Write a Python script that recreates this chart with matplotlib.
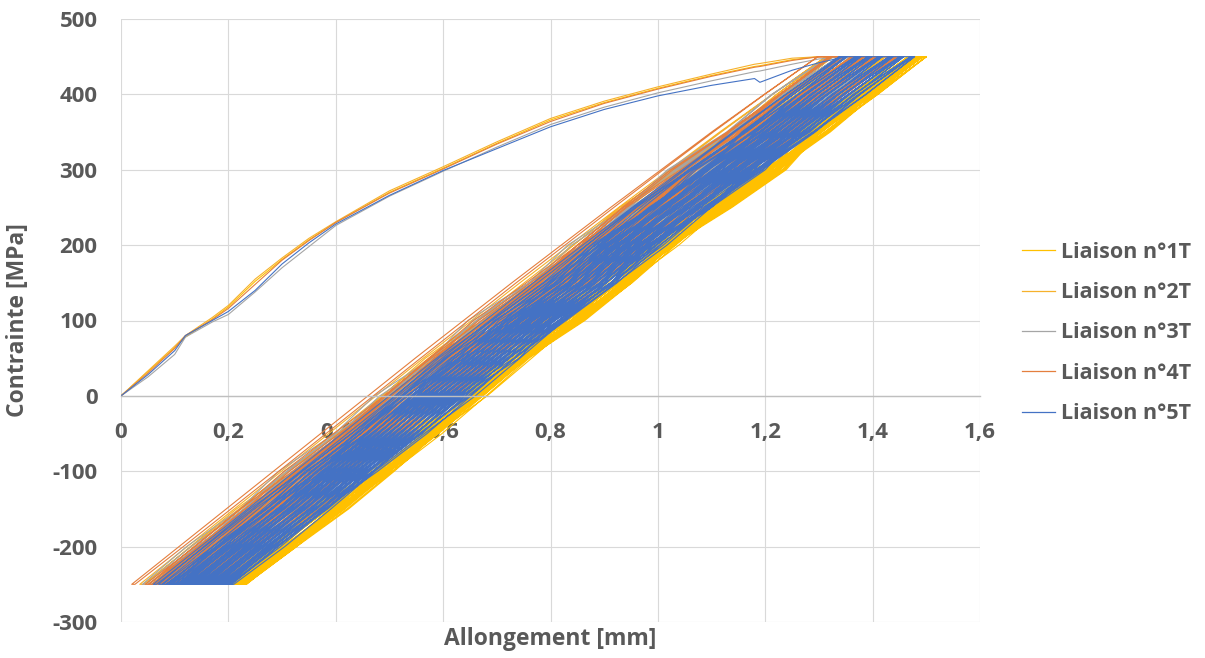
import matplotlib.pyplot as plt
from matplotlib.lines import Line2D

plt.rcParams['font.family'] = ['Open Sans', 'DejaVu Sans']
plt.rcParams['font.weight'] = 'bold'

# Legend names and colours
series_names = ['Liaison n°1T', 'Liaison n°2T', 'Liaison n°3T', 'Liaison n°4T', 'Liaison n°5T']
series_colors = ['#FFC000', '#F6B12C', '#A5A5A5', '#E47F3E', '#4472C4']

# First (virgin) loading curve
virgin_x = [0, 0.05, 0.10, 0.12, 0.17, 0.20, 0.25, 0.30, 0.35, 0.40, 0.50, 0.60,
            0.70, 0.80, 0.90, 1.00, 1.10, 1.18, 1.19, 1.25, 1.30, 1.35]
virgin_1T = [0, 32, 64, 78, 102, 118, 152, 181, 207, 230, 270, 302, 335, 366, 389, 408, 425, 437, 438, 446, 450, 450]
virgin_2T = [0, 33, 66, 80, 104, 120, 155, 183, 209, 231, 272, 304, 337, 368, 391, 410, 427, 440, 441, 448, 450, 450]
virgin_3T = [0, 25, 55, 78, 98, 108, 138, 170, 198, 226, 265, 298, 330, 360, 383, 402, 418, 430, 431, 440, 447, 450]
virgin_4T = [0, 30, 63, 80, 101, 116, 148, 180, 206, 230, 269, 301, 334, 364, 388, 407, 424, 436, 437, 445, 450, 450]
virgin_5T = [0, 28, 60, 80, 100, 112, 140, 175, 203, 228, 266, 299, 328, 357, 380, 398, 412, 421, 416, 432, 442, 450]

# Cyclic part: stress levels and elongation shapes of one loading branch (mm above the cycle start)
cycle_stress = [-250, -200, -150, -100, -50, 0, 50, 100, 150, 200, 250, 300, 350, 400, 450]
shape_smooth = [0, 0.088, 0.176, 0.264, 0.352, 0.440, 0.528, 0.618, 0.708, 0.800, 0.892, 0.986, 1.080, 1.178, 1.278]
shape_wavy = [0, 0.093, 0.178, 0.259, 0.351, 0.446, 0.529, 0.612, 0.710, 0.806, 0.889, 0.979, 1.084, 1.183, 1.274]
shape_kink = [0, 0.092, 0.188, 0.272, 0.352, 0.432, 0.520, 0.628, 0.716, 0.792, 0.905, 1.008, 1.072, 1.168, 1.266]
shape_jagged = [0, 0.082, 0.182, 0.254, 0.358, 0.432, 0.540, 0.606, 0.720, 0.792, 0.902, 0.978, 1.088, 1.172, 1.279]
shape_bumpy = [0, 0.084, 0.170, 0.268, 0.360, 0.442, 0.522, 0.620, 0.716, 0.798, 0.884, 0.990, 1.090, 1.176, 1.272]
unload_shift = [0.006, 0.008, 0.009, 0.010, 0.010, 0.010, 0.010, 0.009, 0.008, 0.007, 0.006, 0.004, 0.003, 0.001, 0]

# Elongation at -250 MPa for each cycle
starts_1T = [0.120, 0.150, 0.170, 0.180, 0.190, 0.195, 0.200, 0.205, 0.210, 0.212, 0.215,
             0.218, 0.220, 0.222, 0.224, 0.226, 0.227, 0.228]
starts_2T = [0.035, 0.045, 0.052, 0.060, 0.068, 0.075, 0.082, 0.090, 0.100, 0.110, 0.115,
             0.120, 0.130, 0.140, 0.150, 0.160, 0.170]
starts_3T = [0.040, 0.050, 0.058, 0.065, 0.075, 0.085, 0.095, 0.105, 0.115, 0.125, 0.135,
             0.145, 0.160, 0.175]
starts_4T = [0.020, 0.045, 0.052, 0.058, 0.063, 0.068, 0.073, 0.078, 0.083, 0.088, 0.093,
             0.098, 0.103, 0.108, 0.113, 0.118, 0.123, 0.130, 0.137, 0.145, 0.152, 0.160,
             0.170, 0.180]
starts_5T = [0.060, 0.070, 0.078, 0.084, 0.089, 0.094, 0.099, 0.104, 0.108, 0.112, 0.116,
             0.120, 0.124, 0.128, 0.132, 0.136, 0.140, 0.144, 0.148, 0.152, 0.156, 0.160,
             0.164, 0.168, 0.172, 0.176, 0.180, 0.184, 0.188, 0.192, 0.196, 0.200, 0.204]

xtick_vals = [0, 0.2, 0.4, 0.6, 0.8, 1.0, 1.2, 1.4, 1.6]
xtick_labels = ['0', '0,2', '0,4', '0,6', '0,8', '1', '1,2', '1,4', '1,6']
ytick_vals = [-300, -200, -100, 0, 100, 200, 300, 400, 500]
ytick_labels = ['-300', '-200', '-100', '0', '100', '200', '300', '400', '500']

virgins = [virgin_1T, virgin_2T, virgin_3T, virgin_4T, virgin_5T]
starts = [starts_1T, starts_2T, starts_3T, starts_4T, starts_5T]
shape_sets = [[shape_kink, shape_bumpy, shape_kink, shape_wavy],
              [shape_smooth, shape_bumpy, shape_wavy],
              [shape_jagged, shape_wavy, shape_jagged, shape_bumpy],
              [shape_smooth, shape_wavy, shape_bumpy, shape_kink],
              [shape_smooth, shape_bumpy, shape_wavy, shape_kink, shape_jagged]]

fig = plt.figure(figsize=(12.05, 6.58), dpi=100)
ax = fig.add_axes([121 / 1205, 1 - 622 / 658, (980 - 121) / 1205, (622 - 19) / 658])

text_color = '#595959'

for k in range(5):
    xs = list(virgin_x)
    ys = list(virgins[k])
    for i, b in enumerate(starts[k]):
        shape = shape_sets[k][i % len(shape_sets[k])]
        # unloading branch, top to bottom
        for d, h, s in zip(shape[::-1], unload_shift[::-1], cycle_stress[::-1]):
            xs.append(b + d + h)
            ys.append(s)
        # reloading branch, bottom to top
        for d, s in zip(shape, cycle_stress):
            xs.append(b + d)
            ys.append(s)
    ax.plot(xs, ys, color=series_colors[k], lw=0.8, solid_joinstyle='round')

ax.set_xlim(0, 1.6)
ax.set_ylim(-300, 500)
ax.set_xticks(xtick_vals)
ax.set_xticklabels(xtick_labels)
ax.set_yticks(ytick_vals)
ax.set_yticklabels(ytick_labels)
ax.grid(True, color='#D9D9D9', lw=0.8)
ax.set_axisbelow(True)

for side in ['top', 'right', 'left']:
    ax.spines[side].set_visible(False)
ax.spines['bottom'].set_position(('data', 0))
ax.spines['bottom'].set_color('#BFBFBF')
ax.spines['bottom'].set_linewidth(1.0)

ax.tick_params(axis='x', length=0, pad=19, labelsize=16, labelcolor=text_color)
ax.tick_params(axis='y', length=0, pad=17, labelsize=16, labelcolor=text_color)

ax.set_xlabel('Allongement [mm]', fontsize=16.5, color=text_color, fontweight='bold')
ax.xaxis.set_label_coords(0.5, -0.008)
ax.set_ylabel('Contrainte [MPa]', fontsize=16.5, color=text_color, fontweight='bold')
ax.yaxis.set_label_coords(-0.106, 0.5)

handles = [Line2D([0], [0], color=c, lw=0.9) for c in series_colors]
fig.legend(handles, series_names, loc='center left', bbox_to_anchor=(0.832, 0.494),
           frameon=False, fontsize=15.5, handlelength=1.55, handletextpad=0.25,
           labelspacing=0.9, labelcolor=text_color)

plt.savefig('out.png', dpi=100)
